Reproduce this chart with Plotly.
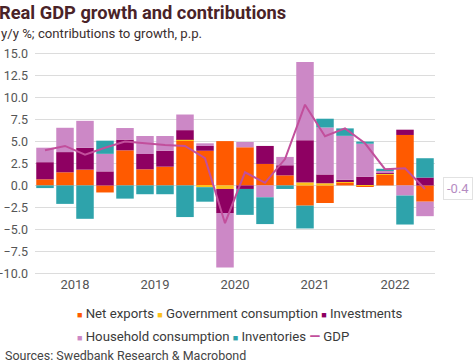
import plotly.graph_objects as go

quarters = ["2018Q1", "2018Q2", "2018Q3", "2018Q4",
            "2019Q1", "2019Q2", "2019Q3", "2019Q4",
            "2020Q1", "2020Q2", "2020Q3", "2020Q4",
            "2021Q1", "2021Q2", "2021Q3", "2021Q4",
            "2022Q1", "2022Q2", "2022Q3", "2022Q4"]

net_exports = [0.7, 1.5, 1.8, -0.8, 4.0, 1.84, 2.14, 5.1, 3.95, 5.05, 4.35, 2.45,
               1.15, -2.3, -2.0, 0.3, -0.15, 1.2, 5.75, -1.85]
government = [0.0, 0.0, 0.0, 0.0, 0.0, 0.0, 0.0, 0.1, -0.2, -0.4, 0.0, 0.0,
              0.0, 0.35, 0.25, 0.15, 0.05, 0.15, 0.0, 0.0]
investments = [1.95, 2.3, 2.5, 1.6, 1.22, 1.74, 1.82, 1.1, 0.55, -2.75, -0.4, 2.05,
               1.15, 4.8, 1.0, 0.2, 0.95, 0.05, 0.6, 0.9]
household = [1.65, 2.77, 3.06, 2.0, 1.32, 2.05, 1.67, 1.78, 0.3, -6.2, 0.6, -1.35,
             0.95, 8.9, 5.35, 5.0, 3.75, 0.3, -1.15, -1.65]
inventories = [-0.3, -2.1, -3.8, 1.5, -1.5, -1.0, -1.0, -3.6, -1.65, 0.0, -2.95, -3.05,
               -0.4, -2.6, 1.0, 0.85, 0.25, 0.2, -3.3, 2.2]
gdp = [4.0, 4.5, 3.5, 4.3, 5.0, 4.8, 4.6, 4.5, 3.1, -4.3, 1.5, 0.3,
       3.0, 9.2, 5.6, 6.5, 4.8, 1.85, 1.95, -0.4]

year_ticks = ["2018", "2019", "2020", "2021", "2022"]
y_ticks = [-10.0, -7.5, -5.0, -2.5, 0.0, 2.5, 5.0, 7.5, 10.0, 12.5, 15.0]

x = list(range(len(quarters)))
year_pos = [sum(i for i, q in enumerate(quarters) if q.startswith(y)) / 4 for y in year_ticks]

FONT = "Roboto"
series = [
    ("Net exports", net_exports, "#ff5a00"),
    ("Government consumption", government, "#fcc21b"),
    ("Investments", investments, "#8e0062"),
    ("Household consumption", household, "#cc88c6"),
    ("Inventories", inventories, "#2ea3ab"),
]
GDP_COLOR = "#c24f9c"

fig = go.Figure()
for name, vals, col in series:
    fig.add_trace(go.Bar(x=x, y=vals, name=name, marker=dict(color=col, line=dict(width=0))))
fig.add_trace(go.Scatter(x=x, y=gdp, name="GDP", mode="lines",
                         line=dict(color=GDP_COLOR, width=2)))

fig.update_layout(
    width=474, height=363,
    barmode="relative", bargap=0.125,
    plot_bgcolor="white", paper_bgcolor="white",
    margin=dict(l=35, r=39, t=52, b=88, autoexpand=False),
    font=dict(family=FONT, color="#555555", size=12),
    showlegend=False,
    xaxis=dict(range=[-0.5, len(quarters) - 0.5], tickvals=year_pos, ticktext=year_ticks,
               showgrid=False, zeroline=False, showline=False, ticks="",
               tickfont=dict(size=13, color="#555555")),
    yaxis=dict(range=[-10.2, 15.2], tickvals=y_ticks, tickformat=".1f",
               showgrid=True, gridcolor="#dcdcdc", gridwidth=1, zeroline=False,
               ticks="", tickfont=dict(size=12.5, color="#555555"), ticklabelstandoff=6),
)

# legend rows built as text
def item(name, col, sym="■", size=9):
    return f"<span style='color:{col};font-size:{size}px'>{sym}</span> {name}"

row1 = " ".join(item(n, c) for n, _, c in series[:3])
row2 = " ".join([item(n, c) for n, _, c in series[3:]] + [item("GDP", GDP_COLOR, "<b>—</b>", 14)])
LEG = dict(family=FONT, size=13.2, color="#3a3a3a")
fig.add_annotation(xref="paper", yref="paper", x=0.1, y=-0.173, xanchor="left", yanchor="middle",
                   text=row1, showarrow=False, font=LEG)
fig.add_annotation(xref="paper", yref="paper", x=0.1, y=-0.272, xanchor="left", yanchor="middle",
                   text=row2, showarrow=False, font=LEG)

fig.add_annotation(xref="paper", yref="paper", x=-0.095, y=1.178, xanchor="left", yanchor="middle",
                   text="<b>Real GDP growth and contributions</b>", showarrow=False,
                   font=dict(family=FONT, size=18.3, color="#4a2328"))
fig.add_annotation(xref="paper", yref="paper", x=-0.09, y=1.085, xanchor="left", yanchor="middle",
                   text="y/y %; contributions to growth, p.p.", showarrow=False,
                   font=dict(family=FONT, size=13.2, color="#3b2e2e"))
fig.add_annotation(xref="paper", yref="paper", x=-0.08, y=-0.361, xanchor="left", yanchor="middle",
                   text="Sources: Swedbank Research & Macrobond", showarrow=False,
                   font=dict(family=FONT, size=12.5, color="#444444"))
fig.add_annotation(x=x[-1], y=gdp[-1], xshift=33, text=f"{gdp[-1]:.1f}", showarrow=False,
                   font=dict(family=FONT, size=13, color="#b58cc2"),
                   bgcolor="white", bordercolor="#e2e2e2", borderwidth=1, borderpad=3)

fig.write_html("out.html", config={"displayModeBar": False},
               post_script="document.body.style.margin='0';document.body.style.overflow='hidden';")
